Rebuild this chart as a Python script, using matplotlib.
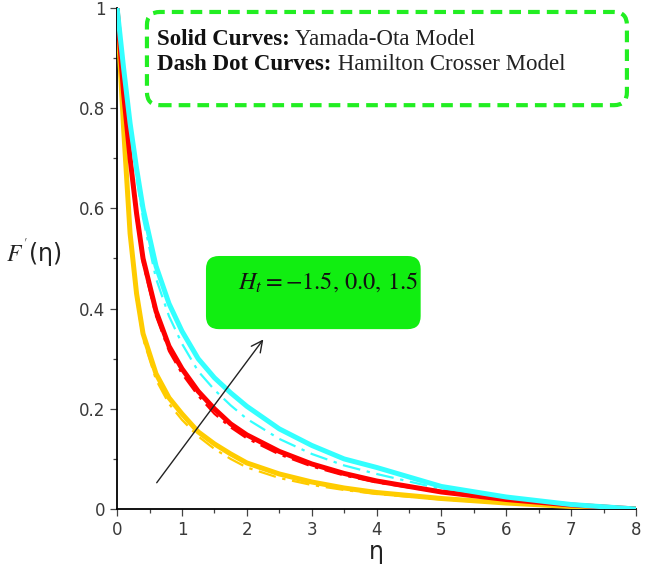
import numpy as np
import matplotlib
matplotlib.use("Agg")
import matplotlib.pyplot as plt
from matplotlib.patches import FancyBboxPatch

plt.rcParams['mathtext.fontset'] = 'stix'

eta = [0, 0.1, 0.2, 0.3, 0.4, 0.6, 0.8, 1.0, 1.25, 1.5, 1.75, 2.0, 2.5, 3.0, 3.5, 4.0, 5.0, 6.0, 7.0, 8.0]

# solid curves: Yamada-Ota model, Ht = -1.5, 0.0, 1.5
yo_m15 = [1, 0.76, 0.55, 0.43, 0.35, 0.27, 0.222, 0.19, 0.154, 0.13, 0.11, 0.092, 0.07, 0.054, 0.042, 0.033, 0.021, 0.012, 0.005, 0]
yo_0 = [1, 0.83, 0.70, 0.59, 0.50, 0.395, 0.325, 0.28, 0.235, 0.20, 0.17, 0.148, 0.115, 0.09, 0.071, 0.056, 0.034, 0.019, 0.008, 0]
yo_p15 = [1, 0.88, 0.77, 0.68, 0.60, 0.485, 0.41, 0.355, 0.30, 0.262, 0.232, 0.205, 0.16, 0.127, 0.10, 0.083, 0.045, 0.024, 0.009, 0]

# dash dot curves: Hamilton Crosser model
hc_m15 = [1, 0.75, 0.54, 0.42, 0.34, 0.258, 0.21, 0.178, 0.145, 0.12, 0.10, 0.083, 0.062, 0.048, 0.038, 0.030, 0.019, 0.011, 0.005, 0]
hc_0 = [1, 0.82, 0.69, 0.58, 0.49, 0.385, 0.315, 0.27, 0.226, 0.19, 0.163, 0.141, 0.109, 0.085, 0.067, 0.053, 0.033, 0.018, 0.007, 0]
hc_p15 = [1, 0.87, 0.76, 0.66, 0.58, 0.46, 0.385, 0.33, 0.275, 0.238, 0.207, 0.18, 0.14, 0.11, 0.087, 0.07, 0.04, 0.021, 0.008, 0]

colors = ['#FFCC00', '#FF0000', '#33FFFF']

fig = plt.figure(figsize=(6.47, 5.69), dpi=100)
ax = fig.add_axes([0.181, 0.1054, 0.802, 0.8806])

for ys, c in zip([yo_m15, yo_0, yo_p15], colors):
    ax.plot(eta, ys, color=c, lw=3.6, solid_capstyle='round', zorder=3)
for ys, c in zip([hc_m15, hc_0, hc_p15], colors):
    ax.plot(eta, ys, color=c, lw=1.6, ls=(0, (8, 3, 1.5, 3)), zorder=2)

ax.set_xlim(0, 8)
ax.set_ylim(0, 1)
ax.set_xticks(range(9))
ax.set_xticks(np.arange(0.5, 8, 1), minor=True)
ax.set_yticks([0, 0.2, 0.4, 0.6, 0.8, 1])
ax.set_yticklabels(['0', '0.2', '0.4', '0.6', '0.8', '1'])
ax.set_yticks(np.arange(0.1, 1, 0.2), minor=True)
ax.tick_params(which='major', length=5, width=0.9, labelsize=12, labelcolor='#3a3a3a', color='#444444')
ax.tick_params(which='minor', length=3, width=0.9, color='#444444')
for s in ['top', 'right']:
    ax.spines[s].set_visible(False)
for s in ['left', 'bottom']:
    ax.spines[s].set_linewidth(1.3)

ax.set_xlabel('η', fontsize=17, color='#222222')
ax.xaxis.set_label_coords(0.5, -0.062)
ax.set_ylabel(r"$F^{'}$(η)", fontsize=17, color='#222222', rotation=0, va='center')
ax.yaxis.set_label_coords(-0.16, 0.51)

# unequal pixel size of data units, used to keep round corners round
asp = (ax.bbox.width / 8) / (ax.bbox.height / 1)

legend_box = FancyBboxPatch((0.46, 0.806), 7.40, 0.186,
                            boxstyle='round,pad=0,rounding_size=0.2',
                            mutation_aspect=asp, fc='none', ec='#22EE22',
                            lw=3.0, ls=(0, (2.8, 1.7)), clip_on=False, zorder=4)
ax.add_patch(legend_box)
t1 = ax.text(0.62, 0.926, 'Solid Curves:', fontsize=16.5, fontweight='bold',
             family='Liberation Serif', color='#111111', va='baseline')
ax.annotate(' Yamada-Ota Model', xy=(1, 0), xycoords=t1, va='bottom',
            fontsize=16.5, family='Liberation Serif', color='#222222')
t2 = ax.text(0.62, 0.877, 'Dash Dot Curves:', fontsize=16.5, fontweight='bold',
             family='Liberation Serif', color='#111111', va='baseline')
ax.annotate(' Hamilton Crosser Model', xy=(1, 0), xycoords=t2, va='bottom',
            fontsize=16.5, family='Liberation Serif', color='#222222')

label_box = FancyBboxPatch((1.37, 0.359), 3.31, 0.146,
                           boxstyle='round,pad=0,rounding_size=0.2',
                           mutation_aspect=asp, fc='#11EE11', ec='none', zorder=4)
ax.add_patch(label_box)
ax.text(3.25, 0.453, r'$H_t = -1.5,\,0.0,\,1.5$', fontsize=17.5, color='#111111',
        ha='center', va='center', zorder=5)

ax.annotate('', xy=(2.28, 0.343), xytext=(0.585, 0.048),
            arrowprops=dict(arrowstyle='->', color='#222222', lw=1.0,
                            mutation_scale=20), zorder=5)

fig.savefig('out.png', dpi=100)
